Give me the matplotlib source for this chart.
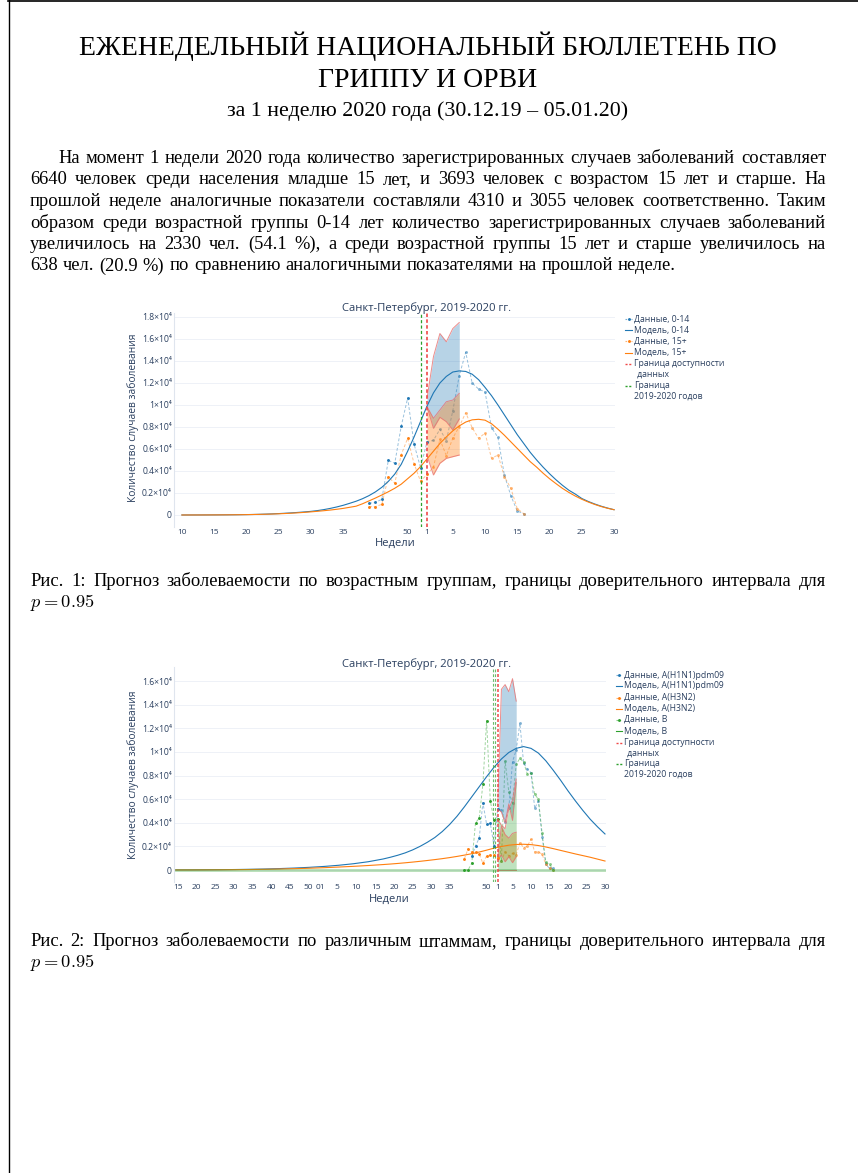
import matplotlib
matplotlib.use("Agg")
import matplotlib.pyplot as plt
from matplotlib.lines import Line2D

W, H = 858, 1173
plt.rcParams['mathtext.fontset'] = 'cm'
SERIF = ['Liberation Serif', 'DejaVu Serif']
SANS = ['Open Sans', 'DejaVu Sans']
INK = '#2a3f5f'
BLUE, ORANGE, GREEN = '#1f77b4', '#ff7f0e', '#2ca02c'
EDGE = '#e8706f'

# ---------------- text of the page ----------------
title_lines = ["ЕЖЕНЕДЕЛЬНЫЙ НАЦИОНАЛЬНЫЙ БЮЛЛЕТЕНЬ ПО", "ГРИППУ И ОРВИ"]
subtitle = "за 1 неделю 2020 года (30.12.19 – 05.01.20)"
paragraph = [
    "На момент 1 недели 2020 года количество зарегистрированных случаев заболеваний составляет",
    "6640 человек среди населения младше 15 лет, и 3693 человек с возрастом 15 лет и старше. На",
    "прошлой неделе аналогичные показатели составляли 4310 и 3055 человек соответственно. Таким",
    "образом среди возрастной группы 0-14 лет количество зарегистрированных случаев заболеваний",
    "увеличилось на 2330 чел. (54.1 %), а среди возрастной группы 15 лет и старше увеличилось на",
    "638 чел. (20.9 %) по сравнению аналогичными показателями на прошлой неделе.",
]
caption1 = "Рис. 1: Прогноз заболеваемости по возрастным группам, границы доверительного интервала для"
caption2 = "Рис. 2: Прогноз заболеваемости по различным штаммам, границы доверительного интервала для"
chart_title = "Санкт-Петербург, 2019-2020 гг."

# ---------------- chart 1: age groups (week index, 0 = week 1 of 2020) ----------------
weeks_data1 = list(range(-9, 16))
n_known1 = 10
kids_data = [1060, 1150, 1430, 4970, 4700, 8060, 10640, 6430, 4310, 6640,
             6790, 7790, 6760, 9480, 12660, 14790, 12000, 11450, 11180, 7940,
             7060, 3610, 1750, 360, 120]
adults_data = [760, 760, 970, 3450, 2900, 5480, 6970, 4660, 3055, 3693,
               4360, 6880, 5390, 7000, 8030, 9300, 7940, 6970, 7450, 5150,
               5450, 3500, 2430, 570, 120]
weeks_model1 = list(range(-38, 30))
kids_model = [1, 2, 3, 4, 6, 9, 12, 16, 21, 28, 37, 48, 62, 80, 102, 128, 160, 195,
              235, 280, 330, 400, 490, 600, 730, 880, 1060, 1250, 1480, 1760, 2100,
              2520, 3050, 3720, 4600, 5800, 7100, 8500, 9900, 11100, 12000, 12600,
              13000, 13100, 13050, 12800, 12300, 11600, 10850, 10000, 9100, 8200,
              7300, 6500, 5700, 5000, 4350, 3750, 3200, 2700, 2250, 1900, 1500, 1230,
              1000, 800, 630, 480]
adults_model = [1, 2, 3, 4, 6, 8, 11, 15, 20, 26, 34, 44, 56, 70, 88, 110, 135, 165,
                200, 240, 285, 335, 390, 450, 520, 600, 700, 800, 1020, 1280, 1540,
                1820, 2110, 2430, 2800, 3300, 3800, 4400, 5100, 5800, 6500, 7100,
                7650, 8100, 8450, 8650, 8700, 8620, 8300, 7800, 7250, 6650, 6050,
                5450, 4850, 4350, 3800, 3300, 2850, 2420, 2050, 1720, 1430, 1180,
                960, 770, 610, 480]
band_weeks = [0, 1, 2, 3, 4, 5]
kids_hi = [10600, 14400, 16500, 15750, 16950, 17500]
kids_lo = [9850, 7880, 8880, 8480, 7730, 8730]
adults_hi = [9850, 8790, 9550, 10300, 10450, 11060]
adults_lo = [5400, 3640, 4700, 5150, 5300, 5450]
ticks1 = [-38, -33, -28, -23, -18, -13, -3, 0, 4, 9, 14, 19, 24, 29]
tick_labels1 = ['10', '15', '20', '25', '30', '35', '50', '1', '5', '10', '15', '20', '25', '30']
yticks1 = [0, 2000, 4000, 6000, 8000, 10000, 12000, 14000, 16000, 18000]
ylabels1 = ['0', '0.2×10⁴', '0.4×10⁴', '0.6×10⁴', '0.8×10⁴', '1×10⁴',
            '1.2×10⁴', '1.4×10⁴', '1.6×10⁴', '1.8×10⁴']

# ---------------- chart 2: strains ----------------
weeks_h1 = list(range(-7, 16))
n_known_h1 = 8
h1_data = [1160, 2030, 2710, 5700, 3870, 3950, 2060, 5140,
           5050, 4090, 5220, 9170, 10160, 12420, 9060, 8550, 8240, 5220, 5840,
           2820, 480, 140, 140]
weeks_h3 = list(range(-9, 16))
n_known_h3 = 10
h3_data = [950, 1800, 1500, 1520, 1350, 570, 1190, 1270, 1270, 990,
           760, 1550, 1200, 1400, 1300, 2310, 1890, 2000, 2620, 1520, 1550,
           1330, 480, 140, 0]
b_data = [0, 0, 590, 4000, 4380, 7280, 12640, 5870, 4200, 4320,
          790, 9230, 6630, 5670, 8950, 9460, 9120, 8130, 8190, 6410, 5990,
          3110, 650, 480, 0]
weeks_model2 = [-87, -83, -79, -75, -71, -67, -63, -59, -55, -51, -47, -43, -39, -35,
                -31, -29, -27, -25, -23, -21, -19, -17, -15, -13, -11, -9, -7, -5,
                -3, -1, 1, 3, 5, 7, 9, 11, 13, 15, 17, 19, 21, 23, 25, 27, 29]
h1_model = [5, 9, 16, 26, 40, 60, 85, 120, 165, 225, 300, 400, 530, 700,
            930, 1080, 1250, 1450, 1700, 2000, 2350, 2750, 3250, 3850, 4550, 5350,
            6200, 7050, 7900, 8700, 9400, 9950, 10300, 10450, 10300, 9900, 9250,
            8450, 7600, 6700, 5850, 5050, 4300, 3650, 3050]
h3_model = [2, 5, 10, 17, 27, 40, 58, 82, 112, 150, 195, 250, 310, 380,
            460, 505, 555, 610, 670, 735, 805, 880, 960, 1050, 1150, 1260, 1380,
            1520, 1680, 1850, 1990, 2100, 2160, 2180, 2150, 2070, 1950, 1810, 1660,
            1510, 1360, 1220, 1080, 920, 760]
b_model = [0, 0, 0, 0, 0, 0, 0, 0, 0, 0, 0, 0, 0, 0, 0,
           0, 0, 0, 0, 0, 0, 0, 0, 0, 0, 0, 0, 0, 0, 0,
           0, 0, 0, 0, 0, 0, 0, 0, 0, 0, 0, 0, 0, 0, 0]
h1_hi = [5400, 15300, 15700, 15100, 16200, 14300]
h1_lo = [5200, 4900, 4000, 5600, 4200, 7400]
h3_hi = [1000, 3700, 3000, 2700, 3100, 3200]
h3_lo = [900, 1270, 700, 1130, 620, 1130]
b_hi = [4300, 3800, 3500, 5200, 5900, 7700]
b_lo = [0, 0, 0, 0, 0, 0]
ticks2 = [-86.5, -81.5, -76.3, -71.3, -66.2, -61.2, -56.2, -51.2, -47.9, -43.4, -38.2,
          -33, -28, -23, -18, -13, -3, 0, 4, 9, 14, 19, 24, 29]
tick_labels2 = ['15', '20', '25', '30', '35', '40', '45', '50', '01', '5', '10', '15',
                '20', '25', '30', '35', '50', '1', '5', '10', '15', '20', '25', '30']
yticks2 = [0, 2000, 4000, 6000, 8000, 10000, 12000, 14000, 16000]
ylabels2 = ['0', '0.2×10⁴', '0.4×10⁴', '0.6×10⁴', '0.8×10⁴', '1×10⁴',
            '1.2×10⁴', '1.4×10⁴', '1.6×10⁴']

fig = plt.figure(figsize=(W / 100, H / 100), dpi=100)
renderer = fig.canvas.get_renderer()


def fx(x):
    return x / W


def fy(y):
    return 1 - y / H


def em(size):
    return size * 100 / 72


def width_of(t):
    return t.get_window_extent(renderer).width


# page frame
fig.add_artist(Line2D([fx(8), fx(858)], [fy(0.8), fy(0.8)], color='black', lw=1.2))
fig.add_artist(Line2D([fx(8.5), fx(8.5)], [fy(0), fy(H)], color='black', lw=1.0))

# title, fitted to the widths read from the page
t = fig.text(fx(428), fy(0), title_lines[0], family=SERIF, fontsize=20, ha='center', va='baseline')
tsize = 20 * 696 / width_of(t)
t.set_fontsize(tsize)
t.set_y(fy(46 + 0.33 * em(tsize)))
fig.text(fx(428), fy(78 + 0.33 * em(tsize)), title_lines[1], family=SERIF, fontsize=tsize,
         ha='center', va='baseline')
t = fig.text(fx(428), fy(0), subtitle, family=SERIF, fontsize=14, ha='center', va='baseline')
ssize = 14 * 400 / width_of(t)
t.set_fontsize(ssize)
t.set_y(fy(109 + 0.3 * em(ssize)))

BODY = 13.3


def put_line(s, x0, x1, base, justify=True, size=BODY):
    words = s.split(' ')
    arts = [fig.text(fx(x0), fy(base), w, family=SERIF, fontsize=size, va='baseline')
            for w in words]
    widths = [width_of(a) for a in arts]
    if justify and len(words) > 1:
        gap = (x1 - x0 - sum(widths)) / (len(words) - 1)
    else:
        gap = 0.27 * em(size)
    x = x0
    for a, w in zip(arts, widths):
        a.set_x(fx(x))
        x += w + gap


for i, line in enumerate(paragraph):
    base = 163 + i * 21.5
    x0 = 58 if i == 0 else 30
    put_line(line, x0, 826, base, justify=(i < len(paragraph) - 1))

put_line(caption1, 30, 826, 586)
fig.text(fx(30), fy(607), r'$p = 0.95$', fontsize=BODY, va='baseline')
put_line(caption2, 30, 826, 946)
fig.text(fx(30), fy(967), r'$p = 0.95$', fontsize=BODY, va='baseline')


def make_axes(box, x0, ppw, y0, pp1000, yticks, ylabels, xticks, xlabels):
    left, top, right, bottom = box
    ax = fig.add_axes([fx(left), fy(bottom), (right - left) / W, (bottom - top) / H])
    ax.set_xlim((left - x0) / ppw, (right - x0) / ppw)
    ax.set_ylim((y0 - bottom) / pp1000 * 1000, (y0 - top) / pp1000 * 1000)
    for s in ['top', 'right', 'bottom']:
        ax.spines[s].set_visible(False)
    ax.spines['left'].set_color('#dfe5ee')
    ax.spines['left'].set_linewidth(0.8)
    ax.set_yticks(yticks)
    ax.set_yticklabels(ylabels, family=SANS, fontsize=6.2, color=INK)
    ax.set_xticks(xticks)
    ax.set_xticklabels(xlabels, family=SANS, fontsize=6.0, color=INK)
    ax.tick_params(length=0, pad=1.5)
    ax.grid(axis='y', color='#eef1f7', lw=0.7, zorder=0)
    ax.set_facecolor('none')
    return ax


def data_series(ax, t, v, n_known, color):
    ax.plot(t, v, color=color, lw=0.7, ls=(0, (3, 2)), alpha=0.45, zorder=2)
    ax.plot(t[:n_known], v[:n_known], 'o', ms=2.1, color=color, mec='none', zorder=4)
    ax.plot(t[n_known:], v[n_known:], 'o', ms=2.1, color=color, mec='none', alpha=0.55, zorder=2)


def band(ax, t, lo, hi, color, alpha):
    ax.fill_between(t, lo, hi, color=color, alpha=alpha, lw=0, zorder=3)
    ax.plot(t, hi, color=EDGE, lw=0.7, alpha=0.8, zorder=3.5)
    ax.plot(t, lo, color=EDGE, lw=0.7, alpha=0.8, zorder=3.5)


def legend_item(x0, x1, y, color, kind, text):
    if kind == 'data':
        fig.add_artist(Line2D([fx(x0), fx(x1)], [fy(y), fy(y)], color=color, lw=0.8,
                              ls=(0, (1.5, 1.2)), alpha=0.6))
        fig.add_artist(Line2D([fx((x0 + x1) / 2)], [fy(y)], color=color, marker='o', ms=2.1,
                              mec='none', lw=0))
    elif kind == 'model':
        fig.add_artist(Line2D([fx(x0), fx(x1)], [fy(y), fy(y)], color=color, lw=0.8))
    else:
        fig.add_artist(Line2D([fx(x0), fx(x1)], [fy(y), fy(y)], color=color, lw=1.0,
                              ls=(0, (1.5, 1.2))))
    fig.text(fx(x1 + 2), fy(y), text, family=SANS, fontsize=6.2, color=INK,
             va='center', ha='left')


# ----- chart 1 -----
ax1 = make_axes((174, 313, 615, 527), 427, 6.45, 515, 11.0, yticks1, ylabels1, ticks1, tick_labels1)
data_series(ax1, weeks_data1, kids_data, n_known1, BLUE)
data_series(ax1, weeks_data1, adults_data, n_known1, ORANGE)
band(ax1, band_weeks, kids_lo, kids_hi, BLUE, 0.32)
band(ax1, band_weeks, adults_lo, adults_hi, ORANGE, 0.36)
ax1.plot(weeks_model1, kids_model, color=BLUE, lw=0.8, zorder=3.6)
ax1.plot(weeks_model1, adults_model, color=ORANGE, lw=0.8, zorder=3.6)
ax1.axvline(-1, color=GREEN, lw=0.9, ls=(0, (2.5, 1.8)), zorder=5)
ax1.axvline(0, color='#f04848', lw=1.4, ls=(0, (1.8, 1.2)), alpha=0.85, zorder=5)

fig.text(fx(427), fy(308), chart_title, family=SANS, fontsize=8.1, color=INK, ha='center', va='center')
fig.text(fx(395), fy(543), 'Недели', family=SANS, fontsize=8.0, color=INK, ha='center', va='center')
fig.text(fx(133), fy(418), 'Количество случаев заболевания', family=SANS, fontsize=7.4,
         color=INK, ha='center', va='center', rotation=90)

leg1 = [(319, BLUE, 'data', 'Данные, 0-14'), (330, BLUE, 'model', 'Модель, 0-14'),
        (341, ORANGE, 'data', 'Данные, 15+'), (352.5, ORANGE, 'model', 'Модель, 15+')]
for y, c, k, s in leg1:
    legend_item(625, 632, y, c, k, s)
legend_item(625, 632, 364, '#f04848', 'line', 'Граница доступности')
fig.text(fx(635), fy(374.5), ' данных', family=SANS, fontsize=6.2, color=INK, va='center')
legend_item(625, 632, 385.5, GREEN, 'line', 'Граница')
fig.text(fx(634), fy(396), '2019-2020 годов', family=SANS, fontsize=6.2, color=INK, va='center')

# ----- chart 2 -----
ax2 = make_axes((174, 667, 606, 882), 497.7, 3.7, 870, 11.81, yticks2, ylabels2, ticks2, tick_labels2)
data_series(ax2, weeks_h1, h1_data, n_known_h1, BLUE)
data_series(ax2, weeks_h3, h3_data, n_known_h3, ORANGE)
data_series(ax2, weeks_h3, b_data, n_known_h3, GREEN)
band(ax2, band_weeks, h1_lo, h1_hi, BLUE, 0.32)
band(ax2, band_weeks, h3_lo, h3_hi, ORANGE, 0.36)
band(ax2, band_weeks, b_lo, b_hi, GREEN, 0.3)
ax2.plot(weeks_model2, h1_model, color=BLUE, lw=0.8, zorder=3.6)
ax2.plot(weeks_model2, h3_model, color=ORANGE, lw=0.8, zorder=3.6)
ax2.plot(weeks_model2, b_model, color=GREEN, lw=2.0, alpha=0.35, zorder=3.6)
ax2.axvline(-1.2, color=GREEN, lw=0.8, ls=(0, (2.5, 1.8)), alpha=0.7, zorder=5)
ax2.axvline(-0.75, color=GREEN, lw=0.8, ls=(0, (2.5, 1.8)), alpha=0.7, zorder=5)
ax2.axvline(0, color='#f04848', lw=1.2, ls=(0, (1.8, 1.2)), alpha=0.9, zorder=5)

fig.text(fx(427), fy(664), chart_title, family=SANS, fontsize=8.1, color=INK, ha='center', va='center')
fig.text(fx(389), fy(899), 'Недели', family=SANS, fontsize=8.0, color=INK, ha='center', va='center')
fig.text(fx(133), fy(775), 'Количество случаев заболевания', family=SANS, fontsize=7.4,
         color=INK, ha='center', va='center', rotation=90)

leg2 = [(675, BLUE, 'data', 'Данные, A(H1N1)pdm09'), (686, BLUE, 'model', 'Модель, A(H1N1)pdm09'),
        (697.5, ORANGE, 'data', 'Данные, A(H3N2)'), (708.5, ORANGE, 'model', 'Модель, A(H3N2)'),
        (719.5, GREEN, 'data', 'Данные, B'), (731, GREEN, 'model', 'Модель, B')]
for y, c, k, s in leg2:
    legend_item(616, 622, y, c, k, s)
legend_item(616, 622, 742.5, '#f04848', 'line', 'Граница доступности')
fig.text(fx(625), fy(753), ' данных', family=SANS, fontsize=6.2, color=INK, va='center')
legend_item(616, 622, 764, GREEN, 'line', 'Граница')
fig.text(fx(624), fy(774.5), '2019-2020 годов', family=SANS, fontsize=6.2, color=INK, va='center')

fig.savefig('out.png', dpi=100)
